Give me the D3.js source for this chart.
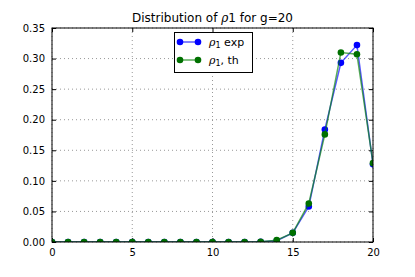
<!DOCTYPE html>
<html>
<head>
<meta charset="utf-8">
<script src="https://cdn.jsdelivr.net/npm/d3@7"></script>
<style>
  body { margin: 0; background: #fff; }
  svg { font-family: "DejaVu Sans", sans-serif; }
</style>
</head>
<body>
<svg id="chart" width="415" height="277"></svg>
<script>
// g values on the x axis
var gSteps = [0, 1, 2, 3, 4, 5, 6, 7, 8, 9, 10, 11, 12, 13, 14, 15, 16, 17, 18, 19, 20];
// measured distribution
var rhoExp = [0, 0, 0, 0, 0, 0, 0, 0, 0, 0, 0, 0, 0, 0.0005, 0.002, 0.015, 0.058, 0.184, 0.293, 0.322, 0.127];
// theoretical distribution
var rhoTh = [0, 0, 0, 0, 0, 0, 0, 0, 0, 0, 0, 0, 0, 0.0003, 0.003, 0.015, 0.063, 0.176, 0.310, 0.307, 0.129];
// tick labels
var xTicks = [0, 5, 10, 15, 20];
var yTicks = [0, 0.05, 0.10, 0.15, 0.20, 0.25, 0.30, 0.35];

var svg = d3.select('#chart');
var mLeft = 52, mRight = 373, mTop = 28, mBottom = 242;

var x = d3.scaleLinear().domain([0, 20]).range([mLeft, mRight]);
var y = d3.scaleLinear().domain([0, 0.35]).range([mBottom, mTop]);

// clip for the plot area
svg.append('clipPath').attr('id', 'plotclip')
  .append('rect')
    .attr('x', mLeft).attr('y', mTop)
    .attr('width', mRight - mLeft).attr('height', mBottom - mTop);

// grid lines
var grid = svg.append('g');
xTicks.forEach(function(t) {
  grid.append('line')
    .attr('x1', x(t)).attr('x2', x(t))
    .attr('y1', mTop).attr('y2', mBottom)
    .attr('stroke', '#999').attr('stroke-width', 1)
    .attr('stroke-dasharray', '1,3');
});
yTicks.forEach(function(t) {
  grid.append('line')
    .attr('x1', mLeft).attr('x2', mRight)
    .attr('y1', y(t)).attr('y2', y(t))
    .attr('stroke', '#999').attr('stroke-width', 1)
    .attr('stroke-dasharray', '1,3');
});

// axes with inward ticks
var xAxis = d3.axisBottom(x).tickValues(xTicks).tickSize(-4).tickPadding(7).tickFormat(d3.format('d'));
var yAxis = d3.axisLeft(y).tickValues(yTicks).tickSize(-4).tickPadding(7).tickFormat(d3.format('.2f'));

svg.append('g').attr('transform', 'translate(0,' + mBottom + ')').call(xAxis);
svg.append('g').attr('transform', 'translate(' + mLeft + ',0)').call(yAxis);
svg.append('g').attr('transform', 'translate(0,' + mTop + ')')
  .call(d3.axisTop(x).tickValues(xTicks).tickSize(-4).tickFormat(''));
svg.append('g').attr('transform', 'translate(' + mRight + ',0)')
  .call(d3.axisRight(y).tickValues(yTicks).tickSize(-4).tickFormat(''));

svg.selectAll('.domain').remove();
svg.selectAll('.tick line').attr('stroke', '#000');
svg.selectAll('.tick text').attr('font-size', '10px').attr('fill', '#000')
  .attr('font-family', '"DejaVu Sans", sans-serif');

// series
var plot = svg.append('g').attr('clip-path', 'url(#plotclip)');
var line = d3.line().x(function(d, i) { return x(gSteps[i]); }).y(function(d) { return y(d); });

var series = [
  {vals: rhoExp, line: '#0000ff', marker: '#0000ff'},
  {vals: rhoTh, line: '#008000', marker: '#007000'}
];
series.forEach(function(s) {
  plot.append('path')
    .attr('d', line(s.vals))
    .attr('fill', 'none')
    .attr('stroke', s.line)
    .attr('stroke-opacity', 0.65)
    .attr('stroke-width', 1.5);
  plot.selectAll(null).data(s.vals).enter().append('circle')
    .attr('cx', function(d, i) { return x(gSteps[i]); })
    .attr('cy', function(d) { return y(d); })
    .attr('r', 3.3)
    .attr('fill', s.marker);
});

// frame
svg.append('rect')
  .attr('x', mLeft).attr('y', mTop)
  .attr('width', mRight - mLeft).attr('height', mBottom - mTop)
  .attr('fill', 'none').attr('stroke', '#000').attr('stroke-width', 1);

// title
var title = svg.append('text')
  .attr('x', (mLeft + mRight) / 2).attr('y', 22)
  .attr('text-anchor', 'middle').attr('font-size', '12px');
title.append('tspan').text('Distribution of ');
title.append('tspan').attr('font-style', 'italic').attr('font-family', '"DejaVu Serif", serif').text('ρ');
title.append('tspan').text('1 for g=20');

// legend
var lg = svg.append('g');
lg.append('rect')
  .attr('x', 174.5).attr('y', 32.5).attr('width', 78).attr('height', 40)
  .attr('fill', '#fff').attr('stroke', '#000').attr('stroke-width', 1);
var labels = [' exp', ', th'];
series.forEach(function(s, i) {
  var ly = 42 + i * 18;
  lg.append('line')
    .attr('x1', 180).attr('x2', 198).attr('y1', ly).attr('y2', ly)
    .attr('stroke', s.line).attr('stroke-opacity', 0.65).attr('stroke-width', 1.5);
  [180, 198].forEach(function(cx) {
    lg.append('circle').attr('cx', cx).attr('cy', ly).attr('r', 3.3).attr('fill', s.marker);
  });
  var t = lg.append('text').attr('x', 209).attr('y', ly + 4).attr('font-size', '11px');
  t.append('tspan').attr('font-style', 'italic').attr('font-family', '"DejaVu Serif", serif').text('ρ');
  t.append('tspan').attr('font-size', '8px').attr('dy', 2).text('1');
  t.append('tspan').attr('dy', -2).text(labels[i]);
});
</script>
</body>
</html>
